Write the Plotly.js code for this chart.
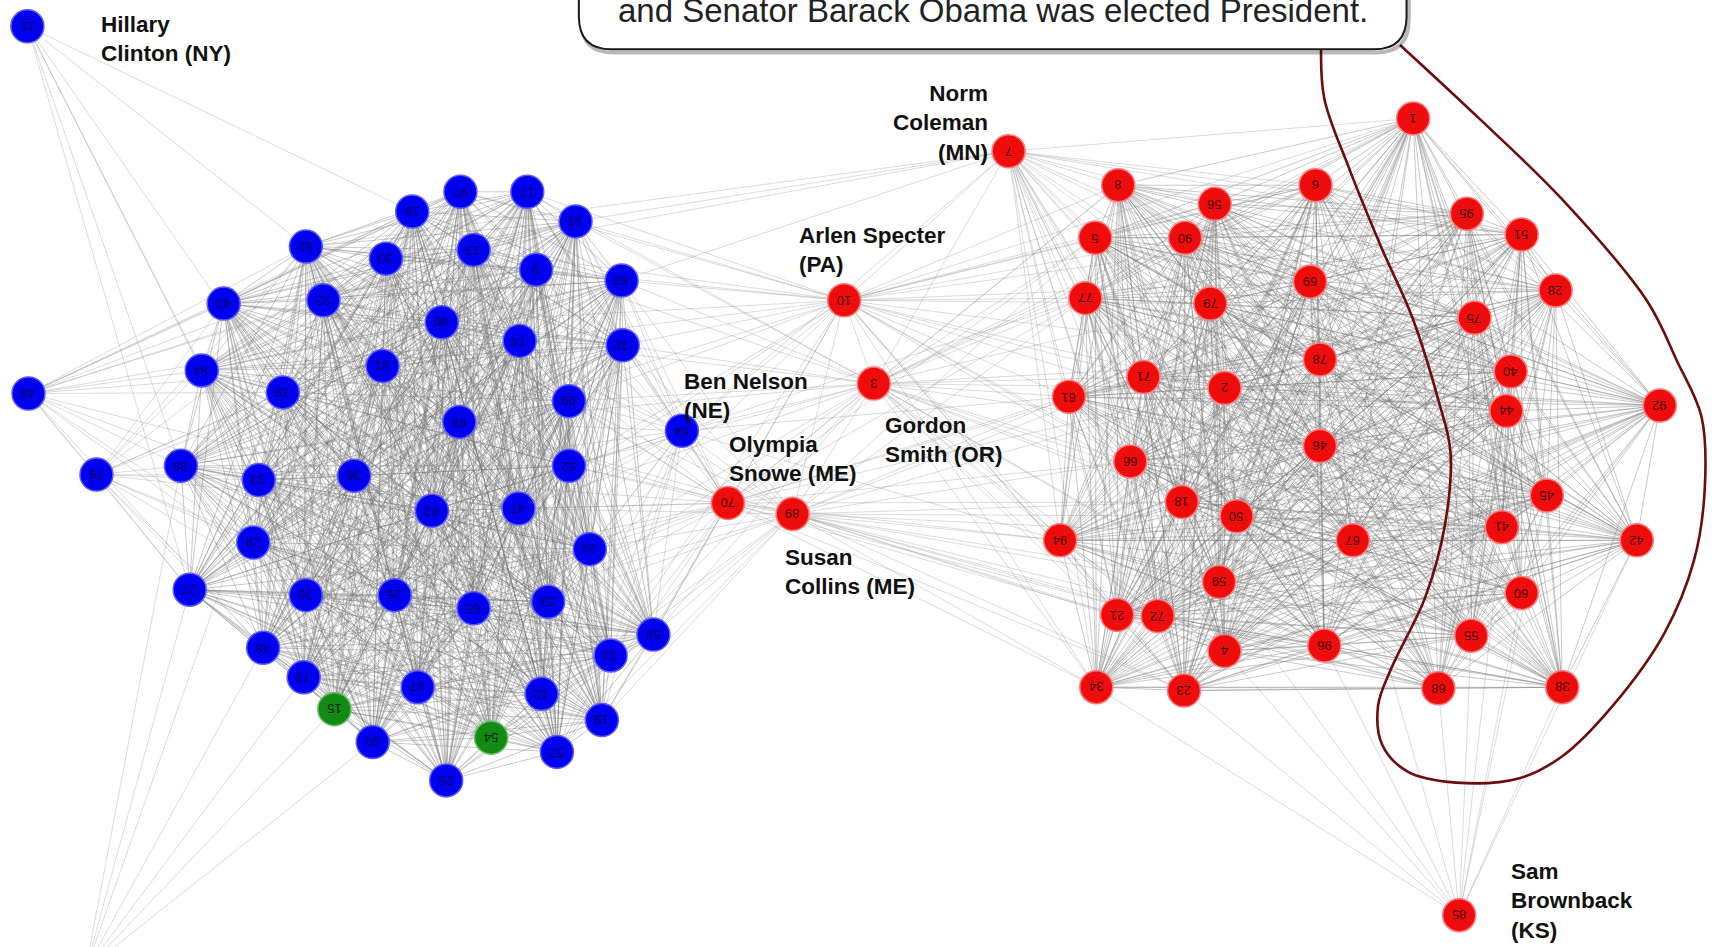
<!DOCTYPE html>
<html><head><meta charset="utf-8">
<script src="https://cdn.plot.ly/plotly-3.0.1.min.js"></script>
<style>html,body{margin:0;padding:0;background:#fff;overflow:hidden;} #chart{width:1719px;height:947px;}</style>
</head><body><div id="chart"></div>
<script>
// ---- Democrats (blue) ----
const demLabels = ["11","49","76","27","16","97","17","91","62","30","13","9","63","43","22","86","74","32","84","81","39","99","98","64","88","33","36","52","83","47","29","24","20","26","65","53","58","31","48","73","87","12","19","80","57","25","35"];
const demX = [25,26,88,173,376,420,481,525,279,352,432,489,567,204,295,403,474,568,184,349,258,519,419,622,165,236,323,519,394,473,231,538,279,360,432,500,596,557,240,277,381,494,549,340,508,407,78];
const demY = [24,359,433,538,193,175,175,202,225,236,228,246,256,277,274,294,311,315,338,334,358,366,385,393,425,438,434,425,466,464,495,501,543,543,555,549,579,598,591,618,627,633,657,677,686,712,885];
// ---- Independents (green) ----
const indLabels = ["15","54"];
const indX = [305,448];
const indY = [647,673];
// ---- Republicans (red) ----
const repLabels = ["7","10","3","70","89","1","8","56","6","95","5","90","51","77","79","69","28","75","78","71","2","61","40","44","92","46","66","18","50","45","94","67","41","42","59","60","21","72","96","4","55","34","23","68","38","85"];
const repX = [920,770,797,664,723,1289,1020,1108,1200,1338,999,1081,1388,990,1104,1195,1419,1345,1204,1043,1117,975,1378,1374,1514,1204,1031,1078,1128,1411,967,1234,1370,1493,1112,1388,1019,1056,1208,1117,1342,1000,1080,1312,1425,1331];
const repY = [138,274,350,459,469,108,169,186,169,195,217,217,214,272,277,257,265,290,328,344,354,362,339,375,370,407,421,458,471,452,493,493,481,493,531,541,561,562,589,594,580,627,630,628,627,835];

// ---- edges: densely connected blocs and individual links ----
const demBloc = ["27","16","97","17","91","62","30","13","9","63","43","22","86","74","32","84","81","39","99","98","88","33","36","52","83","47","29","24","20","26","65","53","58","31","48","73","87","12","19","80","57","25","15","54"];
const repBloc = ["1","8","56","6","95","5","90","51","77","79","69","28","75","78","71","2","61","40","44","92","46","66","18","50","45","94","67","41","42","59","60","21","72","96","4","55","34","23","68","38"];
const clintonLinks = ["62","16","84","88","27","33","39"];
const leftLinks49 = ["43","84","88","76","27","62","16","97","22","39","33","29","36","81","30","13","86","48","20"];
const leftLinks76 = ["84","88","27","43","33","29","48","73","39","22","36","20","62","81","83","26","86"];
const bottomLinks35 = ["27","88","33","48","73","80","15"];
const nelsonLinks = ["91","63","32","99","52","24","58","31","19","57","12","53","47","98","74","9","17","65","26","86","83","13","36","10","3","70","89","7","94","61","77"];
const colemanLinks = ["8","5","77","61","94","34","23","21","72","66","71","2","79","90","56","6","1","18","50","59","4","46","78","69","67","96","95","51","62","91","63","13","10","3"];
const specterLinks = ["91","63","32","99","52","24","58","31","9","17","13","97","86","74","98","47","3","70","89","8","5","77","61","94","34","1","6","78","46","2","71","66","69","79","56","90","21","23","18","50","95"];
const smithLinks = ["63","32","99","52","24","58","31","98","47","9","74","91","17","53","70","89","8","5","77","61","94","34","23","21","72","66","71","2","18","50","59","4","96","67","46","78","1","79","90","6"];
const snoweLinks = ["52","99","24","58","31","19","57","12","53","47","32","63","91","9","98","65","17","26","20","74","83","86","36","89","61","94","34","23","21","66","77","5","8","71","18","72","2"];
const collinsLinks = ["52","24","58","31","19","57","99","32","63","53","12","47","65","98","74","94","34","23","21","72","61","66","18","4","59","96","68","55","77","71","2","50","67","5"];
const brownbackLinks = ["23","96","68","55","60","38","41","45","4","67","59","34","42"];
const hubs = [["11",clintonLinks],["49",leftLinks49],["76",leftLinks76],["35",bottomLinks35],["64",nelsonLinks],["7",colemanLinks],["10",specterLinks],["3",smithLinks],["70",snoweLinks],["89",collinsLinks],["85",brownbackLinks]];

// ---- outline drawn round the conservative wing ----
const loopX = [1205,1208,1230,1261,1288,1312,1323,1318,1300,1269,1257,1261,1284,1328,1386,1425,1471,1518,1545,1555,1552,1530,1502,1425,1347,1277];
const loopY = [45,90,152,228,289,365,412,479,545,610,644,680,704,714,710,690,644,578,512,446,380,330,274,182,106,41];

// ---- callout box ----
const calloutText = "and Senator Barack Obama was elected President.";
const calloutLeft = 528, calloutRight = 1283, calloutBottom = 45, calloutRadius = 30;

// ---- name labels ----
const nameText = ["Hillary<br>Clinton (NY)","Norm<br>Coleman<br>(MN)","Arlen Specter<br>(PA)","Ben Nelson<br>(NE)","Gordon<br>Smith (OR)","Olympia<br>Snowe (ME)","Susan<br>Collins (ME)","Sam<br>Brownback<br>(KS)"];
const nameX = [90,903,727,622,805,663,714,1376];
const nameY = [36,112,228,361,401,419,522,822];
const nameAlign = ["left","right","left","left","left","left","left","left"];

// ---------------------------------------------
const pos = {};
function reg(L,X,Y){ L.forEach((l,i)=>{ pos[l]=[X[i],Y[i]]; }); }
reg(demLabels,demX,demY); reg(indLabels,indX,indY); reg(repLabels,repX,repY);
function addEdge(ex,ey,a,b){ const p=pos[a], q=pos[b]; if(!p||!q) return; ex.push(p[0],q[0],null); ey.push(p[1],q[1],null); }
const bx=[], by=[], hx=[], hy=[];
[demBloc,repBloc].forEach(g=>{ for(let i=0;i<g.length;i++) for(let j=i+1;j<g.length;j++) addEdge(bx,by,g[i],g[j]); });
hubs.forEach(h=>h[1].forEach(t=>addEdge(hx,hy,h[0],t)));

const traces = [
  {x:bx,y:by,mode:'lines',type:'scatter',hoverinfo:'skip',line:{color:'rgba(115,115,115,0.42)',width:0.9}},
  {x:hx,y:hy,mode:'lines',type:'scatter',hoverinfo:'skip',line:{color:'rgba(130,130,130,0.36)',width:0.8}},
  {x:loopX,y:loopY,mode:'lines',type:'scatter',hoverinfo:'skip',line:{color:'#6e0b0b',width:2.6,shape:'spline',smoothing:1}},
  {x:demX,y:demY,mode:'markers',type:'scatter',text:demLabels,marker:{size:33,color:'#0000ee',line:{color:'#5a5aff',width:1.5}}},
  {x:indX,y:indY,mode:'markers',type:'scatter',text:indLabels,marker:{size:33,color:'#138a13',line:{color:'#5fbf5f',width:1.5}}},
  {x:repX,y:repY,mode:'markers',type:'scatter',text:repLabels,marker:{size:33,color:'#ee0d0d',line:{color:'#ff7a7a',width:1.5}}}
];

const annotations = [];
function numAnn(L,X,Y,col){ L.forEach((l,i)=>{ if(Y[i]>864) return; annotations.push({x:X[i],y:Y[i],text:l,showarrow:false,textangle:180,xref:'x',yref:'y',font:{family:'Liberation Sans, Arial, sans-serif',size:13,color:col}}); }); }
numAnn(demLabels,demX,demY,'rgba(0,0,70,0.85)');
numAnn(indLabels,indX,indY,'#062806');
numAnn(repLabels,repX,repY,'#4a0000');
nameText.forEach((t,i)=>annotations.push({x:nameX[i],y:nameY[i],text:'<b>'+t+'</b>',showarrow:false,xref:'x',yref:'y',xanchor:nameAlign[i],yanchor:'middle',align:nameAlign[i],font:{family:'Liberation Sans, Arial, sans-serif',size:22.5,color:'#111'}}));
annotations.push({x:(calloutLeft+calloutRight)/2,y:10,text:calloutText,showarrow:false,xref:'x',yref:'y',xanchor:'center',yanchor:'middle',font:{family:'Liberation Sans, Arial, sans-serif',size:33,color:'#222'}});

function boxPath(dx,dy){
  const L=calloutLeft+dx,R=calloutRight+dx,B=calloutBottom+dy,r=calloutRadius,T=-60;
  return `M ${L},${T} L ${L},${B-r} Q ${L},${B} ${L+r},${B} L ${R-r},${B} Q ${R},${B} ${R},${B-r} L ${R},${T} Z`;
}
const shapes = [
  {type:'path',xref:'x',yref:'y',path:boxPath(2,3),line:{color:'rgba(0,0,0,0.28)',width:4},fillcolor:'rgba(0,0,0,0)',layer:'above'},
  {type:'path',xref:'x',yref:'y',path:boxPath(0,0),line:{color:'#1a1a1a',width:2},fillcolor:'#ffffff',layer:'above'}
];

const layout = {
  width:1719,height:947,margin:{l:0,r:0,t:0,b:0},paper_bgcolor:'#fff',plot_bgcolor:'#fff',showlegend:false,
  xaxis:{range:[0,1568],visible:false,fixedrange:true},
  yaxis:{range:[864,0],visible:false,fixedrange:true},
  annotations:annotations,shapes:shapes,hovermode:false
};
Plotly.newPlot('chart',traces,layout,{staticPlot:true,displayModeBar:false});
</script></body></html>
